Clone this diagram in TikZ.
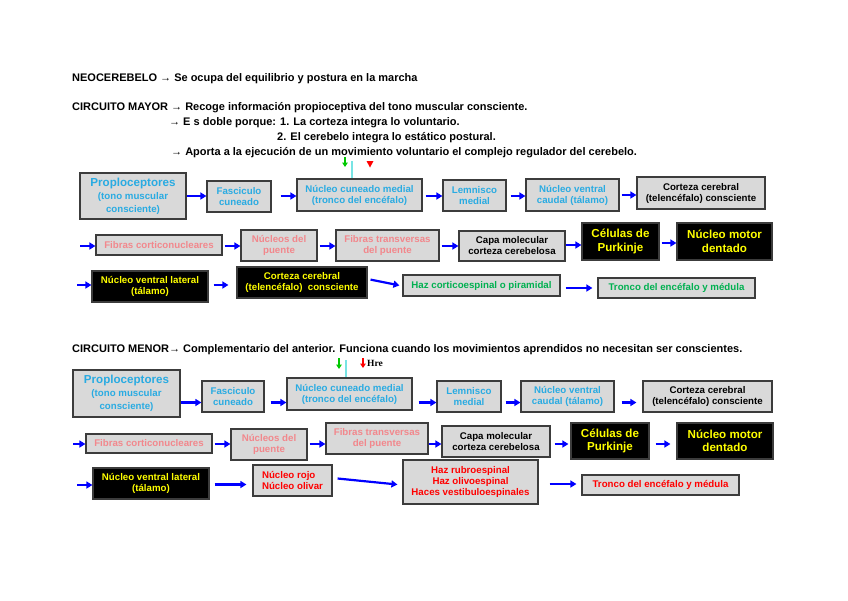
\documentclass[tikz,border=0pt]{standalone}
\usepackage{fontspec}
\setmainfont{Liberation Sans}
\newfontfamily\serifb{Liberation Serif}
\usetikzlibrary{arrows.meta}
\definecolor{boxfill}{RGB}{217,217,217}
\definecolor{boxedge}{RGB}{60,60,60}
\definecolor{cy}{RGB}{41,171,226}
\definecolor{pk}{RGB}{242,135,140}
\definecolor{gr}{RGB}{0,176,80}
\definecolor{rd}{RGB}{255,0,0}
\definecolor{yl}{RGB}{255,255,0}
\definecolor{bl}{RGB}{0,0,255}
\definecolor{mk}{RGB}{0,200,0}
\definecolor{cl}{RGB}{120,228,228}
\newcommand{\bxf}{\fontsize{9.7}{11}\selectfont\bfseries}
\newcommand{\bigf}{\fontsize{11.6}{13.5}\selectfont\bfseries}
\tikzset{
  hdr/.style={anchor=west, inner sep=0pt, font=\fontsize{11}{12}\selectfont\bfseries},
  gbox/.style={draw=boxedge, fill=boxfill, line width=1.2pt, inner sep=1pt, align=center, font=\bxf},
  kbox/.style={draw=boxedge, fill=black, line width=1.2pt, inner sep=1pt, align=center, text=yl, font=\bxf},
  arr/.style={draw=bl, line width=2.2pt, -{Triangle[length=6pt,width=7pt]}},
  mkarr/.style={line width=1.5pt, -{Triangle[length=4.5pt,width=5.5pt]}},
}
\begin{document}
\begin{tikzpicture}[x=1pt,y=-1pt]
\fill[white] (0,0) rectangle (848,600);
\useasboundingbox (0,0) rectangle (848,600);

% headers
\node[hdr] (h1) at (72,79) {NEOCEREBELO → Se ocupa del equilibrio y postura en la marcha};
\node[hdr] (h2) at (72,108) {CIRCUITO MAYOR → Recoge información propioceptiva del tono muscular consciente.};
\node[hdr] (h3) at (169,123) {→ E s doble porque: 1. La corteza integra lo voluntario.};
\node[hdr] (h4) at (277,138) {2. El cerebelo integra lo estático postural.};
\node[hdr] (h5) at (171,153) {→ Aporta a la ejecución de un movimiento voluntario el complejo regulador del cerebelo.};
\node[hdr] (h6) at (72,350) {CIRCUITO MENOR→ Complementario del anterior. Funciona cuando los movimientos aprendidos no necesitan ser conscientes.};

% ===== CIRCUITO MAYOR =====
\node[gbox, minimum width=106, minimum height=46, line width=1.6pt, text=cy, font=\fontsize{9.7}{13}\selectfont\bfseries] (p1) at (133,196) {{\bigf Proploceptores}\\(tono muscular\\consciente)};
\node[gbox, minimum width=64, minimum height=31, text=cy] (f1) at (239,196.5) {Fasciculo\\cuneado};
\node[gbox, minimum width=125, minimum height=32, text=cy] (n1) at (359.5,195) {Núcleo cuneado medial\\(tronco del encéfalo)};
\node[gbox, minimum width=63, minimum height=31, text=cy] (l1) at (474.5,195.5) {Lemnisco\\medial};
\node[gbox, minimum width=93, minimum height=32, text=cy] (v1) at (572.5,195) {Núcleo ventral\\caudal (tálamo)};
\node[gbox, minimum width=128, minimum height=32, text=black] (c1) at (701,193) {Corteza cerebral\\(telencéfalo) consciente};

\draw[arr] (p1.east |- 0,196) -- (f1.west |- 0,196);
\draw[arr, shorten <=9pt] (f1.east |- 0,196) -- (n1.west |- 0,196);
\draw[arr, shorten <=3pt] (n1.east |- 0,196) -- (l1.west |- 0,196);
\draw[arr, shorten <=4pt] (l1.east |- 0,196) -- (v1.west |- 0,196);
\draw[arr, shorten <=2pt] (v1.east |- 0,195) -- (c1.west |- 0,195);

% marks
\draw[mkarr, draw=mk, fill=mk] (345,157) -- (345,167);
\draw[draw=cl, line width=2pt] (351.5,161) -- (n1.north -| 351.5,0);
\fill[rd] (366.5,161) -- (373.5,161) -- (370,167.5) -- cycle;

\coordinate (s2) at (80,246);
\node[gbox, minimum width=126, minimum height=20, text=pk] (fc1) at (159,245) {Fibras corticonucleares};
\node[gbox, minimum width=76, minimum height=31, text=pk] (np1) at (279,245.5) {Núcleos del\\puente};
\node[gbox, minimum width=103, minimum height=31, text=pk] (ft1) at (387.5,245.5) {Fibras transversas\\del puente};
\node[gbox, minimum width=106, minimum height=30, text=black] (cm1) at (512,246) {Capa molecular\\corteza cerebelosa};
\node[kbox, minimum width=77, minimum height=37, font=\bigf] (pk1) at (620.5,241.5) {Células de\\Purkinje};
\node[kbox, minimum width=95, minimum height=37, font=\bigf] (nd1) at (724.5,241.5) {Núcleo motor\\dentado};

\draw[arr] (s2) -- (fc1.west |- s2);
\draw[arr, shorten <=2pt] (fc1.east |- 0,246) -- (np1.west |- 0,246);
\draw[arr, shorten <=2pt] (np1.east |- 0,246) -- (ft1.west |- 0,246);
\draw[arr, shorten <=2pt] (ft1.east |- 0,246) -- (cm1.west |- 0,246);
\draw[arr] (cm1.east |- 0,245) -- (pk1.west |- 0,245);
\draw[arr, shorten <=2pt] (pk1.east |- 0,243) -- (nd1.west |- 0,243);

\coordinate (s3) at (77,285);
\node[kbox, minimum width=116, minimum height=31] (vl1) at (150,286.5) {Núcleo ventral lateral\\(tálamo)};
\node[kbox, minimum width=130, minimum height=31] (cc1) at (302,282.5) {Corteza cerebral\\(telencéfalo)\ \ consciente};
\node[gbox, minimum width=157, minimum height=21, text=gr] (hc1) at (481.5,285.5) {Haz corticoespinal o piramidal};
\node[gbox, minimum width=157, minimum height=20, text=gr] (tr1) at (676.5,288) {Tronco del encéfalo y médula};

\draw[arr] (s3) -- (vl1.west |- s3);
\draw[arr, shorten <=5pt, shorten >=8pt] (vl1.east |- 0,285) -- (cc1.west |- 0,285);
\draw[arr, shorten <=3pt, shorten >=3pt] (cc1.east |- 0,279) -- (hc1.west |- 0,286);
\draw[arr, shorten <=5pt, shorten >=5pt] (hc1.east |- 0,288) -- (tr1.west |- 0,288);

% ===== CIRCUITO MENOR =====
\draw[mkarr, draw=mk, fill=mk] (339,358) -- (339,369);
\draw[draw=cl, line width=2pt] (346,360) -- (346,378);
\draw[mkarr, draw=rd, fill=rd] (363,358) -- (363,368);
\node[anchor=west, inner sep=0pt, font=\serifb\fontsize{9.5}{10}\selectfont\bfseries] (hre) at (367,363.5) {Hre};

\node[gbox, minimum width=107, minimum height=47, line width=1.6pt, text=cy, font=\fontsize{9.7}{13}\selectfont\bfseries] (p2) at (126.5,393.5) {{\bigf Proploceptores}\\(tono muscular\\consciente)};
\node[gbox, minimum width=62, minimum height=31, text=cy] (f2) at (233,396.5) {Fasciculo\\cuneado};
\node[gbox, minimum width=125, minimum height=32, text=cy] (n2) at (349.5,394) {Núcleo cuneado medial\\(tronco del encéfalo)};
\node[gbox, minimum width=64, minimum height=31, text=cy] (l2) at (469,396.5) {Lemnisco\\medial};
\node[gbox, minimum width=93, minimum height=31, text=cy] (v2) at (567.5,396.5) {Núcleo ventral\\caudal (tálamo)};
\node[gbox, minimum width=129, minimum height=31, text=black] (c2) at (707.5,396.5) {Corteza cerebral\\(telencéfalo) consciente};

\draw[arr] (p2.east |- 0,402.5) -- (f2.west |- 0,402.5);
\draw[arr, shorten <=6pt] (f2.east |- 0,402.5) -- (n2.west |- 0,402.5);
\draw[arr, shorten <=6pt] (n2.east |- 0,402.5) -- (l2.west |- 0,402.5);
\draw[arr, shorten <=4pt] (l2.east |- 0,402.5) -- (v2.west |- 0,402.5);
\draw[arr, shorten <=7pt, shorten >=6pt] (v2.east |- 0,402.5) -- (c2.west |- 0,402.5);

\coordinate (s4) at (73,444);
\node[gbox, minimum width=126, minimum height=19, text=pk] (fc2) at (149,443.5) {Fibras corticonucleares};
\node[gbox, minimum width=76, minimum height=31, text=pk] (np2) at (269,444.5) {Núcleos del\\puente};
\node[gbox, minimum width=102, minimum height=31, text=pk] (ft2) at (377,438.5) {Fibras transversas\\del puente};
\node[gbox, minimum width=108, minimum height=31, text=black] (cm2) at (496,441.5) {Capa molecular\\corteza cerebelosa};
\node[kbox, minimum width=78, minimum height=36, font=\bigf] (pk2) at (610,441) {Células de\\Purkinje};
\node[kbox, minimum width=96, minimum height=36, font=\bigf] (nd2) at (725,441) {Núcleo motor\\dentado};

\draw[arr] (s4) -- (fc2.west |- s4);
\draw[arr, shorten <=2pt] (fc2.east |- 0,444) -- (np2.west |- 0,444);
\draw[arr, shorten <=2pt] (np2.east |- 0,444) -- (ft2.west |- 0,444);
\draw[arr] (ft2.east |- 0,444) -- (cm2.west |- 0,444);
\draw[arr, shorten <=4pt, shorten >=2pt] (cm2.east |- 0,444) -- (pk2.west |- 0,444);
\draw[arr, shorten <=6pt, shorten >=6pt] (pk2.east |- 0,444) -- (nd2.west |- 0,444);

\coordinate (s5) at (77,485);
\node[kbox, minimum width=116, minimum height=31] (vl2) at (151,483.5) {Núcleo ventral lateral\\(tálamo)};
\node[gbox, minimum width=79, minimum height=31, text=rd, align=left] (nr2) at (292.5,480.5) {Núcleo rojo\\Núcleo olivar};
\node[gbox, minimum width=135, minimum height=44, text=rd] (hr2) at (470.5,482) {Haz rubroespinal\\Haz olivoespinal\\Haces vestibuloespinales};
\node[gbox, minimum width=157, minimum height=20, text=rd] (tr2) at (660.5,485) {Tronco del encéfalo y médula};

\draw[arr] (s5) -- (vl2.west |- s5);
\draw[arr, shorten <=5pt, shorten >=6pt] (vl2.east |- 0,484.5) -- (nr2.west |- 0,484.5);
\draw[arr, shorten <=5pt, shorten >=5pt] (nr2.east |- 0,478) -- (hr2.west |- 0,485);
\draw[arr, shorten <=11pt, shorten >=5pt] (hr2.east |- 0,484) -- (tr2.west |- 0,484);
\end{tikzpicture}
\end{document}
